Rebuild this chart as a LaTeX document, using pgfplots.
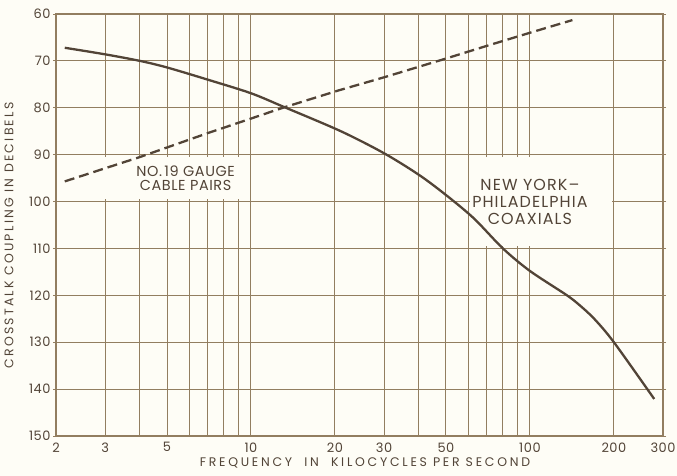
\documentclass[border=0pt]{standalone}
\usepackage{fontspec}
\setmainfont{Poppins}
\usepackage{pgfplots}
\pgfplotsset{compat=1.18}
\definecolor{gridc}{RGB}{146,126,96}
\definecolor{ink}{RGB}{82,68,55}
\definecolor{paper}{RGB}{254,253,246}
\begin{document}
\begin{tikzpicture}
% page = axis box plus margins, 677 x 476
\path[use as bounding box, fill=paper] (-56bp,-40bp) rectangle (621bp,436bp);
\begin{axis}[
  scale only axis, width=607bp, height=422bp,
  xmode=log,
  xmin=2, xmax=300, ymin=60, ymax=150, y dir=reverse,
  xtick={2,3,5,10,20,30,50,100,200,300},
  xticklabels={2,3,5,10,20,30,50,100,200,300},
  minor xtick={4,6,7,8,9,40,60,70,80,90},
  ytick={60,70,...,150},
  grid=both,
  major grid style={gridc, line width=1bp},
  minor grid style={gridc, line width=1bp},
  axis line style={gridc, line width=1.6bp},
  xtick style={draw=none},
  ytick style={gridc, line width=1bp},
  tick align=outside, major tick length=3bp,
  /pgf/number format/assume math mode=true,
  tick label style={font=\fontsize{13}{15}\selectfont\addfontfeatures{LetterSpace=4}, text=ink},
  xticklabel style={yshift=0bp},
  yticklabel style={xshift=1bp},
  xlabel={FREQUENCY\ \ IN\ \ KILOCYCLES PER SECOND},
  ylabel={CROSSTALK COUPLING IN DECIBELS},
  xlabel style={font=\fontsize{12.5}{14}\selectfont\addfontfeatures{LetterSpace=22}, text=ink,
    at={(axis description cs:0.509,0)}, anchor=center, yshift=-27bp},
  ylabel style={font=\fontsize{12.5}{14}\selectfont\addfontfeatures{LetterSpace=18}, text=ink,
    at={(axis description cs:-0.0775,0.475)}, anchor=center},
]
% blanked areas under the two captions
\fill[paper] (axis cs:2.9,90.5) rectangle (axis cs:9.85,99.5);
\fill[paper] (axis cs:61,90.5) rectangle (axis cs:197,109.5);

% No. 19 gauge cable pairs
\addplot[ink, line width=2.3bp, dash pattern=on 10bp off 5bp] coordinates {
  (2.15,95.7) (3,92.9) (4,90.5) (7,85.4) (10,82.3) (13,80.0) (20.6,76.3)
  (30,73.5) (50,69.5) (70,66.8) (100,64.0) (142,61.3)
};

% New York - Philadelphia coaxials
\addplot[ink, line width=2.3bp, smooth, tension=0.5] coordinates {
  (2.15,67.2) (3,68.6) (4,70.0) (5,71.4) (7,74.0) (10,76.9) (13.1,79.8)
  (21,85.0) (30,89.7) (40,94.3) (50,98.6) (63,103.6) (80,110.0) (100,114.8)
  (135,119.9) (150,122.0) (170,125.0) (200,130.0) (279,142.1)
};

\node[text=ink, align=center, font=\fontsize{14.5}{14}\selectfont\addfontfeatures{LetterSpace=4}]
  at (axis cs:5.83,95) {NO.\,19 GAUGE\\CABLE PAIRS};
\node[text=ink, align=center, font=\fontsize{16}{17}\selectfont\addfontfeatures{LetterSpace=7}]
  at (axis cs:100,100) {NEW YORK–\\PHILADELPHIA\\COAXIALS};
\end{axis}
\end{tikzpicture}
\end{document}
